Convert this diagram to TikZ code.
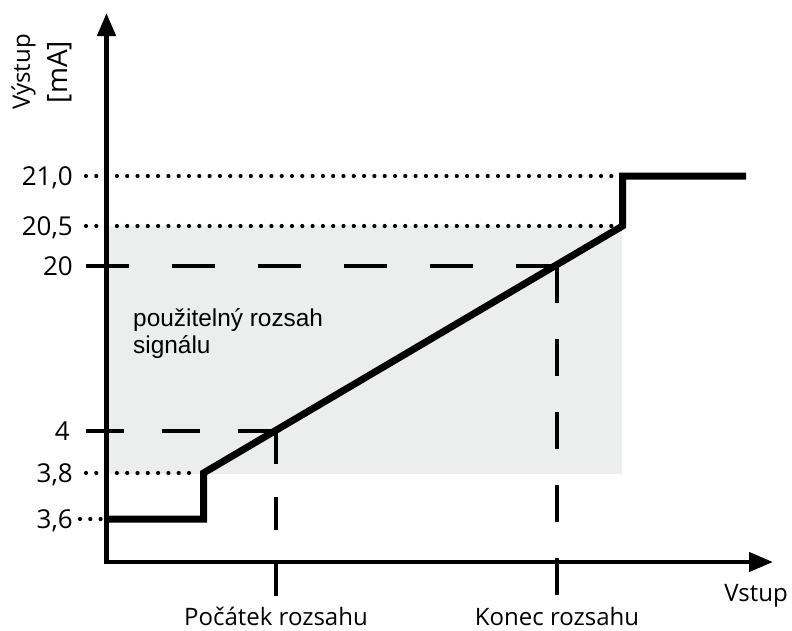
\documentclass[tikz,border=0pt]{standalone}
\usepackage{fontspec}
\setmainfont{Open Sans}
\newfontfamily\boxfont{Liberation Sans}
\usetikzlibrary{arrows.meta,positioning}
\definecolor{rangegray}{RGB}{236,237,237}

\begin{document}
\begin{tikzpicture}[x=1pt,y=-1pt,
    axis/.style={line width=4.5pt,line join=miter,{Triangle[length=23pt,width=18pt]}-{Triangle[length=24pt,width=19pt]}},
    signal/.style={line width=7pt,line join=miter},
    dotline/.style={line width=4.2pt,line cap=round,dash pattern=on 0pt off 10.3pt},
    levellabel/.style={anchor=east,inner sep=0pt,font=\fontsize{26}{30}\selectfont,text height=18.6pt,text depth=0pt},
    axlabel/.style={inner sep=0pt,font=\fontsize{24}{28}\selectfont,text height=17pt,text depth=0pt}]
      \useasboundingbox (0,0) rectangle (792,630);
      % usable range
      \fill[rangegray] (107,226) rectangle (622,474);
      \node[anchor=north west,align=left,inner sep=0pt,font=\boxfont\fontsize{24.4}{27}\selectfont] (usable) at (133,308) {použitelný rozsah\\signálu};
      % axes
      \coordinate (ytop) at (106.5,13);
      \coordinate (O) at (106.5,562);
      \coordinate (xend) at (773,562);
      \draw[axis] (ytop) -- (O) -- (xend);
      \node[rotate=90,align=center,inner sep=0pt,font=\fontsize{24}{38}\selectfont] (yname) at (42,72) {Výstup\\{\fontsize{28}{38}\selectfont [mA]}};
      \node[axlabel] (xname) at (756,593) {Vstup};
      % dotted levels
      \coordinate (d21) at (86,176);
      \coordinate (d205) at (86,226);
      \coordinate (d38) at (86,473);
      \coordinate (d36) at (80,519);
      \coordinate (e21) at (614,176);
      \coordinate (e205) at (617,226);
      \coordinate (e38) at (198,473);
      \coordinate (e36) at (104,519);
      \draw[dotline] (d21) -- (e21);
      \draw[dotline] (d205) -- (e205);
      \draw[dotline] (d38) -- (e38);
      \draw[dotline] (d36) -- (e36);
      % dashed levels
      \coordinate (d20) at (86,266);
      \coordinate (d4) at (86,431);
      \coordinate (k20) at (557,266);
      \coordinate (k4) at (276,431);
      \coordinate (kend) at (557,597);
      \coordinate (pend) at (276,597);
      \draw[line width=4pt,dash pattern=on 43pt off 43pt] (d20) -- (k20);
      \draw[line width=4pt,dash pattern=on 37pt off 36pt] (k20) -- (kend);
      \draw[line width=4pt,dash pattern=on 38pt off 38pt] (d4) -- (k4);
      \draw[line width=4pt,dash pattern=on 33pt off 33pt] (k4) -- (pend);
      % labels
      \node[levellabel,left=13pt of d21] (l21) {21,0};
      \node[levellabel,left=13pt of d205] (l205) {20,5};
      \node[levellabel,left=13pt of d20] (l20) {20};
      \node[levellabel,left=16pt of d4] (l4) {4};
      \node[levellabel,left=13pt of d38] (l38) {3,8};
      \node[levellabel,left=7pt of d36] (l36) {3,6};
      \node[axlabel,anchor=north,below=11pt of pend] (start) {Počátek rozsahu};
      \node[axlabel,anchor=north,below=11pt of kend] (end) {Konec rozsahu};
      % output signal
      \draw[signal] (107,519) -- (203.5,519) -- (203.5,473) -- (622.5,226) -- (622.5,176) -- (746,176);
\end{tikzpicture}
\end{document}
